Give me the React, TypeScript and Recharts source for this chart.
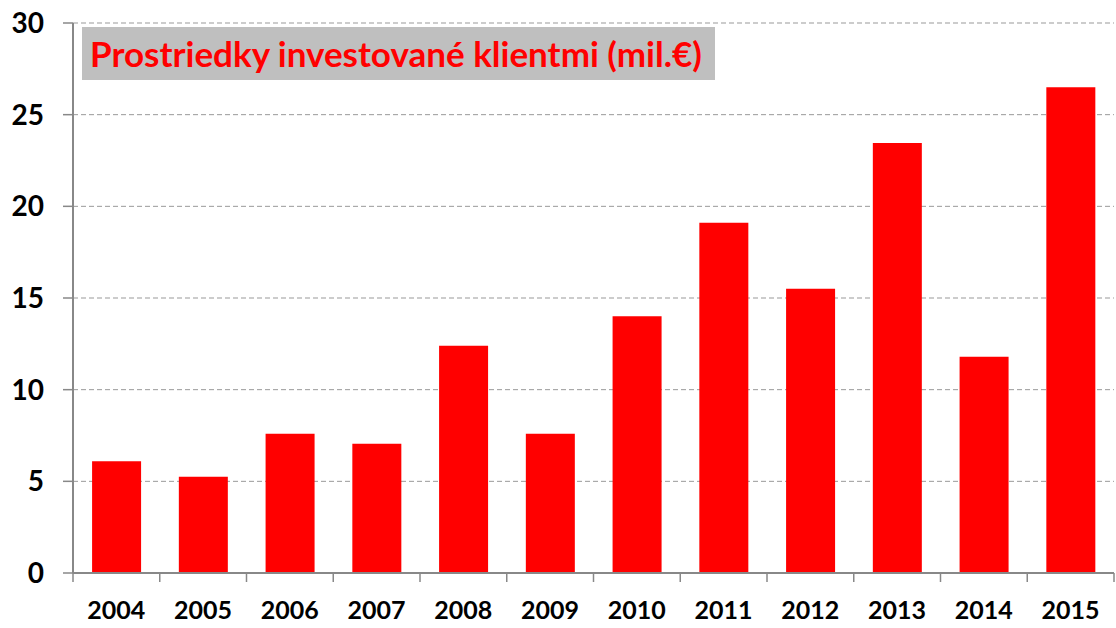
import React from 'react';
import { BarChart, Bar, XAxis, YAxis, CartesianGrid } from 'recharts';

const years = ['2004', '2005', '2006', '2007', '2008', '2009', '2010', '2011', '2012', '2013', '2014', '2015'];
const invested = [6.1, 5.25, 7.6, 7.05, 12.4, 7.6, 14.0, 19.1, 15.5, 23.45, 11.8, 26.5];
const yTicks = [0, 5, 10, 15, 20, 25, 30];

const data = years.map((year, i) => ({ year, value: invested[i] }));

const W = 1116;
const H = 628;
const LEFT = 73;
const RIGHT = 1114;
const BOTTOM = 573;
const band = (RIGHT - LEFT) / years.length;

const XTick = (props: any) => {
  const { x, payload, index } = props;
  return (
    <g>
      <line x1={x - band / 2} y1={BOTTOM} x2={x - band / 2} y2={BOTTOM + 9} stroke="#888" strokeWidth={1.5} />
      {index === years.length - 1 && (
        <line x1={x + band / 2} y1={BOTTOM} x2={x + band / 2} y2={BOTTOM + 9} stroke="#888" strokeWidth={1.5} />
      )}
      <text x={x} y={BOTTOM + 46} textAnchor="middle" fontSize={25} fontWeight="bold" fill="#000" fontFamily="Lato">
        {payload.value}
      </text>
    </g>
  );
};

const App = () => {
  return (
    <div style={{ position: 'absolute', left: 0, top: 0, width: W, height: H, background: '#fff' }}>
      <BarChart
        width={W}
        height={H}
        data={data}
        margin={{ top: 23, right: W - RIGHT, bottom: 0, left: 0 }}
        barCategoryGap="22%"
      >
        <CartesianGrid vertical={false} stroke="#999" strokeDasharray="5 3" />
        <XAxis
          dataKey="year"
          tickLine={false}
          tick={<XTick />}
          axisLine={{ stroke: '#888', strokeWidth: 2 }}
          interval={0}
          height={H - BOTTOM}
        />
        <YAxis
          domain={[0, 30]}
          ticks={yTicks}
          width={LEFT}
          tickSize={10}
          tickMargin={19}
          tickLine={{ stroke: '#888', strokeWidth: 1.5 }}
          axisLine={{ stroke: '#888', strokeWidth: 2 }}
          tick={{ fontSize: 28, fontWeight: 'bold', fill: '#000', fontFamily: 'Lato' }}
        />
        <Bar dataKey="value" fill="#ff0000" isAnimationActive={false} />
      </BarChart>
      <div
        style={{
          position: 'absolute',
          left: 82,
          top: 27,
          width: 633,
          height: 53,
          background: '#bfbfbf',
          color: '#ff0000',
          fontFamily: 'Lato',
          fontWeight: 'bold',
          fontSize: 35,
          lineHeight: '53px',
          boxSizing: 'border-box',
          paddingLeft: 8,
          whiteSpace: 'nowrap',
        }}
      >
        Prostriedky investované klientmi (mil.€)
      </div>
    </div>
  );
};

export default App;
